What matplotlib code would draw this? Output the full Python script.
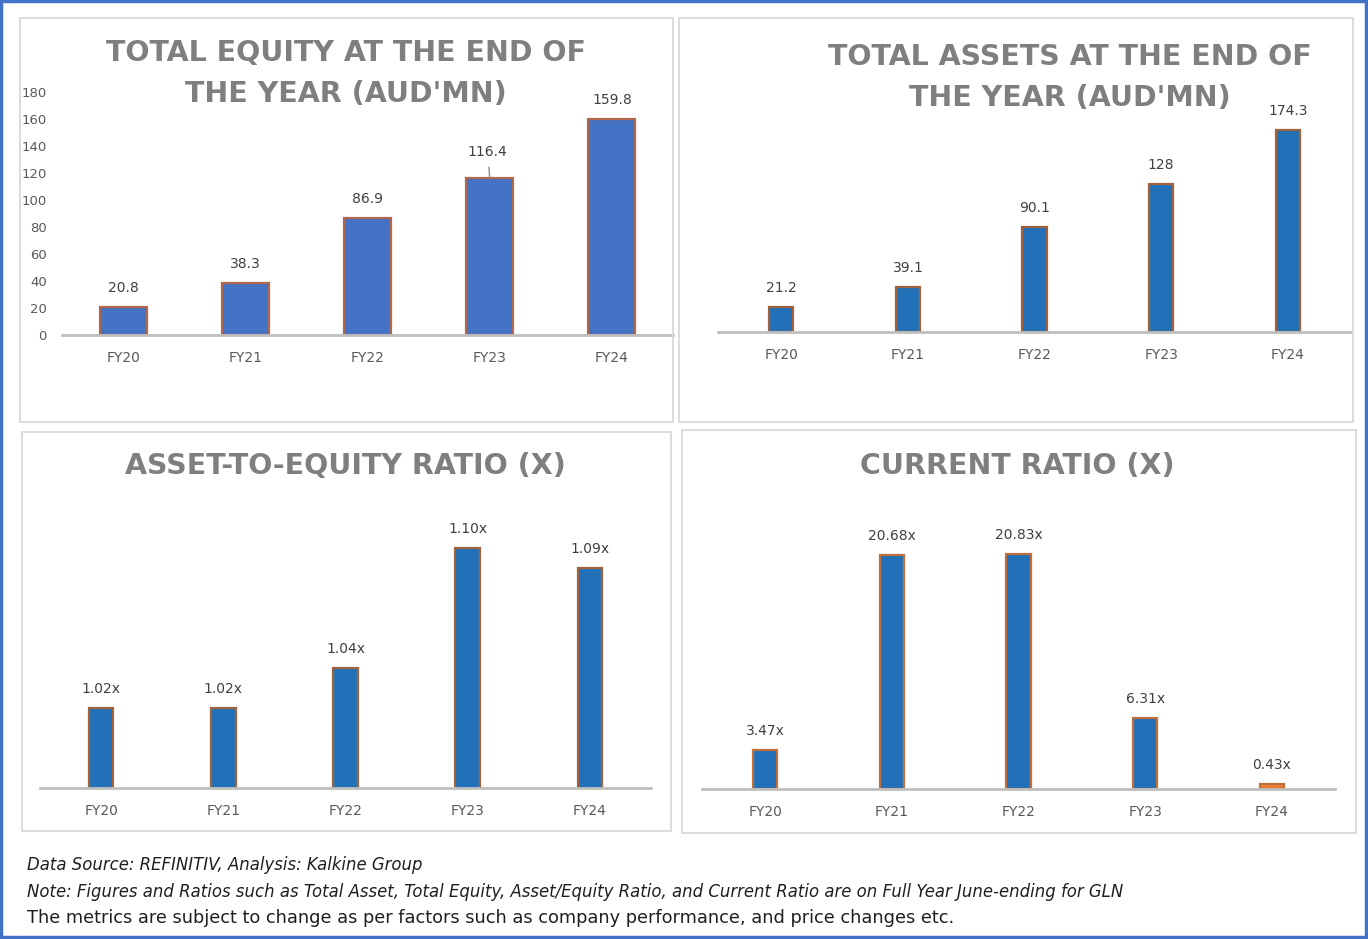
import matplotlib
matplotlib.use("Agg")
import matplotlib.pyplot as plt
from matplotlib.patches import Rectangle

# ---------------- data ----------------
years = ['FY20', 'FY21', 'FY22', 'FY23', 'FY24']
total_equity = [20.8, 38.3, 86.9, 116.4, 159.8]
total_assets = [21.2, 39.1, 90.1, 128, 174.3]
asset_to_equity = [1.02, 1.02, 1.04, 1.10, 1.09]
current_ratio = [3.47, 20.68, 20.83, 6.31, 0.43]

equity_ticks = [0, 20, 40, 60, 80, 100, 120, 140, 160, 180]

notes = ["Data Source: REFINITIV, Analysis: Kalkine Group",
         "Note: Figures and Ratios such as Total Asset, Total Equity, Asset/Equity Ratio, and Current Ratio are on Full Year June-ending for GLN",
         "The metrics are subject to change as per factors such as company performance, and price changes etc."]

W, H = 1368, 939
fig = plt.figure(figsize=(W / 100, H / 100), dpi=100)
fig.patch.set_facecolor('white')

def fx(x):
    return x / W

def fy(y):
    return 1 - y / H

def box(x0, y0, x1, y1, color, lw):
    fig.add_artist(Rectangle((fx(x0), fy(y1)), fx(x1) - fx(x0), (y1 - y0) / H,
                             transform=fig.transFigure, fill=False,
                             edgecolor=color, linewidth=lw))

# outer frame + panel frames
box(1, 1, 1366, 937, '#4472C4', 2.5)
box(20, 18, 673, 422, '#D9D9D9', 1.3)
box(679, 18, 1353, 422, '#D9D9D9', 1.3)
box(22, 432, 671, 831, '#D9D9D9', 1.3)
box(682, 430, 1356, 833, '#D9D9D9', 1.3)

def make_ax(x0, x1, ybase, ytop, ylo, yhi):
    ax = fig.add_axes([fx(x0), fy(ybase), fx(x1) - fx(x0), (ybase - ytop) / H])
    ax.set_xlim(-0.5, 4.5)
    ax.set_ylim(ylo, yhi)
    ax.patch.set_visible(False)
    for s in ['top', 'right', 'left']:
        ax.spines[s].set_visible(False)
    ax.spines['bottom'].set_color('#BFBFBF')
    ax.spines['bottom'].set_linewidth(2)
    ax.set_xticks(range(len(years)))
    ax.set_xticklabels(years)
    ax.tick_params(axis='x', length=0, labelsize=10, colors='#595959', pad=11.5)
    ax.set_yticks([])
    return ax

def labels(ax, vals, fmt, off=19):
    for i, v in enumerate(vals):
        ax.annotate(fmt(v), (i, v), xytext=(0, off), textcoords='offset pixels',
                    ha='center', va='center', fontsize=10, color='#404040',
                    annotation_clip=False)

# ---- panel 1: total equity
ax1 = make_ax(62, 673, 335, 92, 0, 180)
ax1.bar(range(len(years)), total_equity, width=0.385, color='#4472C4',
        edgecolor='#B0684E', linewidth=1.6)
ax1.set_yticks(equity_ticks)
ax1.tick_params(axis='y', length=0, labelsize=9.5, colors='#595959', pad=11)
eq_fmt = lambda v: '{:.1f}'.format(v)
for i, v in enumerate(total_equity):
    if i == 3:
        # label pushed up with a leader line, as in the source
        ax1.annotate(eq_fmt(v), (i, v), xytext=(-2, 26), textcoords='offset pixels',
                     ha='center', va='center', fontsize=10, color='#404040',
                     arrowprops=dict(arrowstyle='-', color='#8C8C8C', lw=1.0,
                                     shrinkA=4, shrinkB=0))
    else:
        ax1.annotate(eq_fmt(v), (i, v), xytext=(0, 19), textcoords='offset pixels',
                     ha='center', va='center', fontsize=10, color='#404040')

# ---- panel 2: total assets
ax2 = make_ax(718, 1351, 332, 100, 0, 200)
ax2.bar(range(len(years)), total_assets, width=0.19, color='#2271B8',
        edgecolor='#A0623C', linewidth=1.6)
labels(ax2, total_assets, lambda v: '{:g}'.format(v))

# ---- panel 3: asset-to-equity
ax3 = make_ax(40, 651, 788, 468, 0.98, 1.14)
ax3.bar(range(len(years)), asset_to_equity, width=0.2, color='#2271B8',
        edgecolor='#A0623C', linewidth=1.6)
labels(ax3, asset_to_equity, lambda v: '{:.2f}x'.format(v))

# ---- panel 4: current ratio
ax4 = make_ax(702, 1335, 789, 518, 0, 24)
cols = ['#2271B8'] * 4 + ['#ED7D31']
ax4.bar(range(len(years)), current_ratio, width=0.19, color=cols,
        edgecolor='#C0703C', linewidth=1.6)
labels(ax4, current_ratio, lambda v: '{:.2f}x'.format(v))

# ---- titles (one text per line)
tkw = dict(ha='center', va='center', fontsize=20.5, fontweight='bold',
           color='#7F7F7F')
fig.text(fx(346), fy(53), "TOTAL EQUITY AT THE END OF", **tkw)
fig.text(fx(346), fy(94), "THE YEAR (AUD'MN)", **tkw)
fig.text(fx(1069.5), fy(57), "TOTAL ASSETS AT THE END OF", **tkw)
fig.text(fx(1069.5), fy(98), "THE YEAR (AUD'MN)", **tkw)
fig.text(fx(345), fy(466), "ASSET-TO-EQUITY RATIO (X)", **tkw)
fig.text(fx(1017), fy(466), "CURRENT RATIO (X)", **tkw)

# ---- footnotes
fig.text(fx(27), fy(865), notes[0], ha='left', va='center', fontsize=11.9,
         style='italic', color='#1F1F1F')
fig.text(fx(27), fy(892), notes[1], ha='left', va='center', fontsize=11.9,
         style='italic', color='#1F1F1F')
fig.text(fx(27), fy(918), notes[2], ha='left', va='center', fontsize=12.75,
         color='#1F1F1F')

fig.savefig('out.png', dpi=100)
